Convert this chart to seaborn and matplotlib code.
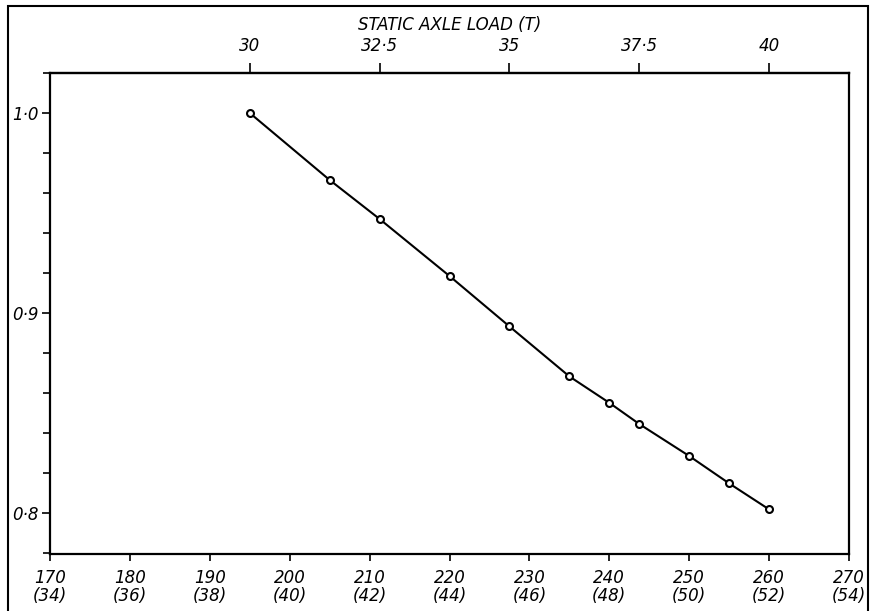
import matplotlib
matplotlib.use("Agg")
import matplotlib.pyplot as plt
import seaborn as sns
import pandas as pd
from matplotlib.patches import Rectangle
from matplotlib.ticker import MultipleLocator, FixedLocator

# 数据
load_kn = [195, 205, 211.25, 220, 227.5, 235, 240, 243.75, 250, 255, 260]
ratio = [1.000, 0.9665, 0.947, 0.9185, 0.8933, 0.8683, 0.8551, 0.8445, 0.8285, 0.8148, 0.8018]

bottom_ticks = [170, 180, 190, 200, 210, 220, 230, 240, 250, 260, 270]
bottom_sub = [34, 36, 38, 40, 42, 44, 46, 48, 50, 52, 54]
top_ticks = [30, 32.5, 35, 37.5, 40]
top_labels = ["30", "32·5", "35", "37·5", "40"]
y_ticks = [0.8, 0.9, 1.0]
y_labels = ["0·8", "0·9", "1·0"]
kn_per_t = 6.5

df = pd.DataFrame({"load": load_kn, "ratio": ratio})

sns.set_style("ticks")
plt.rcParams['font.family'] = ['DejaVu Sans']
plt.rcParams['font.style'] = 'italic'
plt.rcParams['text.color'] = 'black'
plt.rcParams['xtick.color'] = 'black'
plt.rcParams['ytick.color'] = 'black'
plt.rcParams['xtick.labelcolor'] = 'black'
plt.rcParams['ytick.labelcolor'] = 'black'
plt.rcParams['axes.labelcolor'] = 'black'

fig = plt.figure(figsize=(8.77, 6.11), dpi=100)
ax = fig.add_axes([50 / 877, 1 - 554 / 611, 799 / 877, 481 / 611])

sns.lineplot(data=df, x="load", y="ratio", ax=ax, color="black", lw=1.5,
             marker="o", markersize=5, markerfacecolor="white",
             markeredgecolor="black", markeredgewidth=1.5)

ax.set_xlim(170, 270)
ax.set_ylim(0.7795, 1.02)
ax.set_xlabel("")
ax.set_ylabel("")

ax.xaxis.set_major_locator(FixedLocator(bottom_ticks))
ax.set_xticklabels([f"{a}\n({b})" for a, b in zip(bottom_ticks, bottom_sub)],
                   fontsize=12, style="italic", linespacing=1.0)
ax.yaxis.set_major_locator(FixedLocator(y_ticks))
ax.set_yticklabels(y_labels, fontsize=12, style="italic")
ax.yaxis.set_minor_locator(MultipleLocator(0.02))

ax.tick_params(axis="y", which="major", direction="out", length=6, width=1.2, pad=2)
ax.tick_params(axis="y", which="minor", direction="out", length=5, width=1.2)
ax.tick_params(axis="x", which="major", direction="out", length=5, width=1.2, pad=6)

for s in ax.spines.values():
    s.set_linewidth(1.6)
    s.set_color("black")

# 顶部坐标轴: 静态轴重 (T)
top = ax.secondary_xaxis("top", functions=(lambda x: x / kn_per_t, lambda t: t * kn_per_t))
top.xaxis.set_major_locator(FixedLocator(top_ticks))
top.set_xticklabels(top_labels, fontsize=12, style="italic", color="black")
top.tick_params(axis="x", direction="out", length=7, width=1.2, pad=6, colors="black")
top.set_xlabel("STATIC AXLE LOAD (T)", fontsize=12, style="italic", labelpad=5, color="black")
top.spines["top"].set_linewidth(1.6)

# 外框
fig.patches.append(Rectangle((8 / 877, -0.02), 860 / 877, 1.0104, transform=fig.transFigure,
                             fill=False, edgecolor="black", linewidth=1.5))

fig.savefig("out.png", dpi=100)
